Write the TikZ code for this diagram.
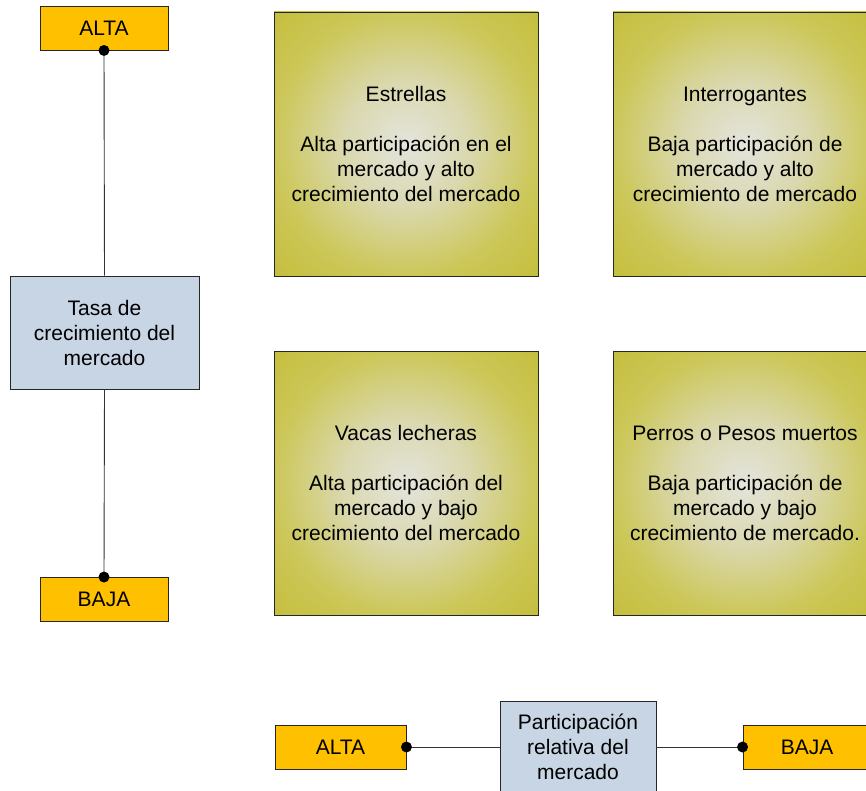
\documentclass[tikz,border=0pt]{standalone}
\usepackage{fontspec}
\setmainfont{Liberation Sans}
\usetikzlibrary{positioning}
\definecolor{amber}{HTML}{FFC000}
\definecolor{paleblue}{HTML}{C8D5E4}
\definecolor{glowmid}{HTML}{E4E4DC}
\definecolor{glowin}{HTML}{DAD8AE}
\definecolor{glowout}{HTML}{CCC758}
\definecolor{glowedge}{HTML}{C4BE3C}
\definecolor{wire}{HTML}{333333}
\pgfdeclareradialshading{quadglow}{\pgfpoint{0bp}{0bp}}{%
  color(0bp)=(glowmid); color(12bp)=(glowin);
  color(25bp)=(glowout); color(36bp)=(glowedge); color(60bp)=(glowedge)}
\tikzset{
  txt/.style={font=\fontsize{21}{25}\selectfont, align=center, text=black},
  level/.style={txt, draw=black!85, line width=0.9pt, fill=amber,
    minimum width=128pt, minimum height=44pt, inner sep=0pt},
  axisbox/.style={txt, draw=black!85, line width=0.9pt, fill=paleblue,
    inner sep=0pt},
  quad/.style={txt, draw=black!85, line width=0.9pt, shading=quadglow,
    minimum width=264pt, minimum height=264pt, inner sep=0pt},
  link/.style={draw=wire, line width=0.9pt},
  knob/.style={fill=black}
}
\begin{document}
\begin{tikzpicture}[x=1pt,y=-1pt]
  \useasboundingbox (0,0) rectangle (866,791);
  \clip (0,0) rectangle (866,791);

  % vertical axis: market growth rate
  \node[level] (altaV) at (104,28) {ALTA};
  \node[axisbox, minimum width=189pt, minimum height=113pt] (tasa) at (104.5,332.5)
    {Tasa de\\crecimiento del\\mercado};
  \node[level] (bajaV) at (104,599.5) {BAJA};

  % the four quadrants
  \node[quad] (estrellas) at (406,144)
    {Estrellas\\[25pt]Alta participación en el\\mercado y alto\\crecimiento del mercado};
  \node[quad] (interrog) at (745,144)
    {Interrogantes\\[25pt]Baja participación de\\mercado y alto\\crecimiento de mercado};
  \node[quad] (vacas) at (406,483)
    {Vacas lecheras\\[25pt]Alta participación del\\mercado y bajo\\crecimiento del mercado};
  \node[quad] (perros) at (745,483)
    {Perros o Pesos muertos\\[25pt]Baja participación de\\mercado y bajo\\crecimiento de mercado.};

  % horizontal axis: relative market share
  \node[level, minimum width=131pt] (altaH) at (340.5,747) {ALTA};
  \node[axisbox, minimum width=156pt, minimum height=92pt] (partic) at (578,747)
    {Participación\\relativa del\\mercado};
  \node[level] (bajaH) at (807,747) {BAJA};

  % connectors with round terminals
  \draw[link] (altaV.south) -- (tasa.north);
  \draw[link] (tasa.south) -- (bajaV.north);
  \draw[link] (altaH.east) -- (partic.west);
  \draw[link] (partic.east) -- (bajaH.west);
  \fill[knob] (altaV.south) circle (5.5);
  \fill[knob] (bajaV.north) circle (5.5);
  \fill[knob] (altaH.east) circle (5.5);
  \fill[knob] (bajaH.west) circle (5.5);
\end{tikzpicture}
\end{document}
